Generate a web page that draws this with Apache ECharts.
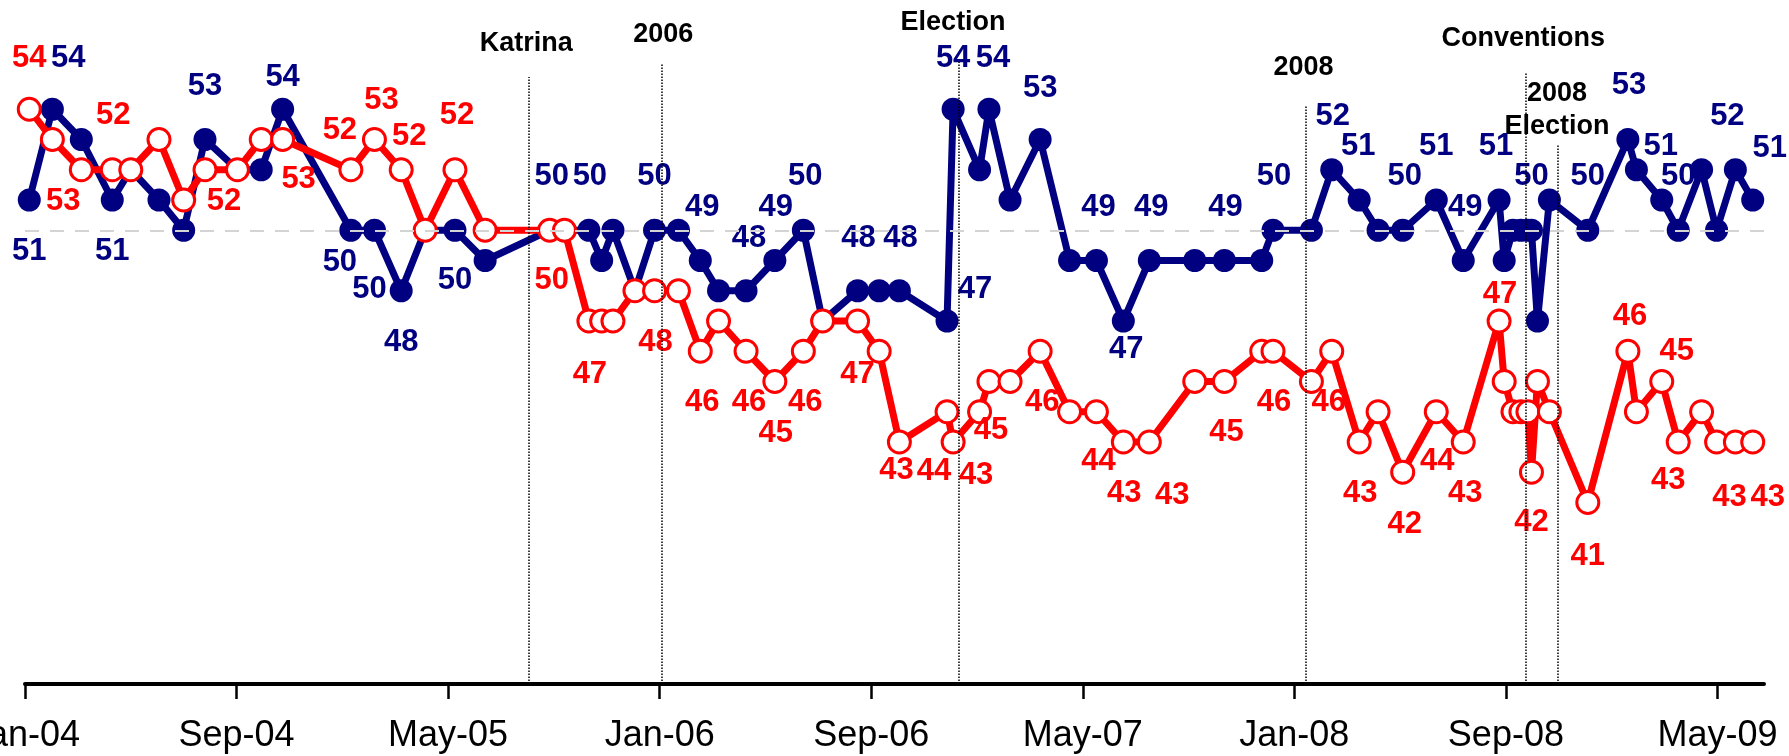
<!DOCTYPE html>
<html>
<head>
<meta charset="utf-8">
<script src="https://cdn.jsdelivr.net/npm/echarts@6/dist/echarts.min.js"></script>
<style>
html,body{margin:0;padding:0;background:#ffffff;}
#chart{width:1789px;height:756px;}
</style>
</head>
<body>
<div id="chart"></div>
<script>
// ---------------- DATA ----------------
const pollDates = [
  '2004-01-06','2004-02-02','2004-03-05','2004-04-10','2004-05-01','2004-06-03','2004-07-01','2004-07-26','2004-09-02','2004-09-29',
  '2004-10-24','2005-01-11','2005-02-07','2005-03-08','2005-04-05','2005-05-09','2005-06-13','2005-08-27','2005-09-13','2005-10-11',
  '2005-10-26','2005-11-08','2005-12-03','2005-12-26','2006-01-23','2006-02-16','2006-03-08','2006-04-09','2006-05-12','2006-06-14',
  '2006-07-06','2006-08-16','2006-09-10','2006-10-03','2006-11-27','2006-12-04','2007-01-04','2007-01-15','2007-02-08','2007-03-13',
  '2007-04-16','2007-05-17','2007-06-17','2007-07-17','2007-09-08','2007-10-12','2007-11-24','2007-12-07','2008-01-21','2008-02-13',
  '2008-03-15','2008-04-06','2008-05-04','2008-06-12','2008-07-13','2008-08-24','2008-08-30','2008-09-09','2008-09-18','2008-09-26',
  '2008-09-30','2008-10-07','2008-10-21','2008-12-04','2009-01-20','2009-01-30','2009-02-26','2009-03-17','2009-04-13','2009-04-30',
  '2009-05-22','2009-06-11'
];
const blueValues = [
  51,54,53,51,52,51,50,53,52,52,
  54,50,50,48,50,50,49,50,50,50,
  49,50,48,50,50,49,48,48,49,50,
  47,48,48,48,47,54,52,54,51,53,
  49,49,47,49,49,49,49,50,50,52,
  51,50,50,51,49,51,49,50,50,50,
  50,47,51,50,53,52,51,50,52,50,
  52,51
];
const redValues = [
  54,53,52,52,52,53,51,52,52,53,
  53,52,53,52,50,52,50,50,50,47,
  47,47,48,48,48,46,47,46,45,46,
  47,47,46,43,44,43,44,45,45,46,
  44,44,43,43,45,45,46,46,45,46,
  43,44,42,44,43,47,45,44,44,44,
  42,45,44,41,46,44,45,43,44,43,
  43,43
];
const tickLabels = ['Jan-04','Sep-04','May-05','Jan-06','Sep-06','May-07','Jan-08','Sep-08','May-09'];
const eventNames = ['Katrina','2006','Election','2008','Conventions','2008\nElection'];
const eventDates = ['2005-08-03','2006-01-04','2006-12-11','2008-01-14','2008-09-23','2008-10-31'];
const referenceLevel = 50;

// ---------------- STYLE (label placement, pixel offsets) ----------------
const blueLabelOffsets = {
  0:[0,51],1:[16,-51],3:[0,51],7:[0,-53],10:[0,-32],11:[-11,32],12:[-5,59],13:[0,52],15:[0,50],
  17:[2,-54],19:[1,-54],23:[0,-54],25:[2,-53],27:[3,-52],28:[1,-53],29:[2,-54],31:[1,-52],33:[1,-52],
  34:[28,-32],35:[0,-51],37:[4,-51],39:[0,-51],41:[2,-53],42:[3,28],43:[2,-53],45:[1,-53],47:[1,-54],
  49:[1,-53],50:[-1,-54],52:[2,-54],53:[0,-54],54:[2,-53],55:[-3,-54],60:[0,-54],63:[0,-54],64:[1,-54],
  66:[-1,-54],67:[0,-54],70:[-8,-53],71:[17,-52]
};
const redLabelOffsets = {
  0:[0,-51],1:[11,62],3:[1,-54],7:[19,32],10:[16,40],11:[-11,-39],12:[7,-39],13:[8,-33],15:[2,-54],
  17:[2,50],19:[1,53],23:[1,52],25:[2,51],27:[3,51],28:[1,52],29:[2,51],31:[0,53],33:[-3,28],
  34:[-13,60],35:[23,33],37:[2,49],39:[2,51],41:[2,50],42:[1,51],43:[23,53],45:[2,51],47:[1,51],
  49:[-3,51],50:[1,51],52:[2,52],53:[1,50],54:[2,51],55:[1,-27],60:[0,50],63:[0,54],64:[2,-35],
  66:[15,-30],67:[-10,38],69:[13,55],71:[15,55]
};
const eventLineTop = [55.07, 55.53, 55.56, 54.14, 55.23, 52.82];
const eventTextOffsets = [[-3,-33],[1,-28],[-6,-40],[-2,-37],[-2,-33],[-1,-35]];

const BLUE = '#000080', RED = '#ff0000';
const FONT = '"Liberation Sans", Arial, sans-serif';

function toMonths(s){
  const p = s.split('-').map(Number);
  const dim = new Date(p[0], p[1], 0).getDate();
  return (p[0]-2004)*12 + (p[1]-1) + (p[2]-1)/dim;
}
const X_MIN = 0, X_MAX = 65.76, Y_MIN = 35, Y_MAX = 57;
const tickValues = tickLabels.map((_, i) => i*8);

function buildData(values, offsets){
  return pollDates.map((d, i) => {
    const item = { value: [toMonths(d), values[i]] };
    if (offsets[i]) item.label = { show: true, offset: offsets[i] };
    return item;
  });
}

const eventData = eventDates.map((d, i) => ({
  value: [toMonths(d), eventLineTop[i]],
  label: { offset: eventTextOffsets[i] }
}));
const markLines = eventDates.map((d, i) => [
  { coord: [toMonths(d), Y_MIN] },
  { coord: [toMonths(d), eventLineTop[i]] }
]);
markLines.push([
  { coord: [X_MIN, referenceLevel], lineStyle: { color: '#d4d4d4', width: 2, type: [14, 11] } },
  { coord: [X_MAX, referenceLevel] }
]);

const chart = echarts.init(document.getElementById('chart'), null, { renderer: 'canvas' });
const numberLabel = (color) => ({
  show: false,
  position: 'inside',
  formatter: p => String(p.value[1]),
  color: color,
  fontSize: 31,
  fontWeight: 'bold',
  fontFamily: FONT
});

chart.setOption({
  animation: false,
  backgroundColor: '#ffffff',
  grid: { left: 25, right: 25, top: 18.5, bottom: 72, containLabel: false, outerBoundsMode: 'none' },
  xAxis: {
    type: 'value',
    min: X_MIN, max: X_MAX, interval: 8,
    axisLine: { show: true, lineStyle: { color: '#000', width: 4 } },
    axisTick: { show: true, length: 15, customValues: tickValues, lineStyle: { color: '#000', width: 2.5 } },
    axisLabel: {
      show: true, margin: 34, customValues: tickValues, hideOverlap: false,
      color: '#000', fontSize: 36, fontFamily: FONT,
      formatter: v => { const k = Math.round(v/8); return (Math.abs(v - k*8) < 1e-6 && tickLabels[k]) ? tickLabels[k] : ''; }
    },
    splitLine: { show: false }
  },
  yAxis: {
    type: 'value', min: Y_MIN, max: Y_MAX, show: false,
    splitLine: { show: false }
  },
  series: [
    {
      type: 'scatter',
      z: 1,
      silent: true,
      symbolSize: 0,
      data: eventData,
      label: {
        show: true, position: 'inside',
        formatter: p => eventNames[p.dataIndex],
        color: '#000000', fontSize: 27, fontWeight: 'bold', fontFamily: FONT,
        lineHeight: 33, align: 'center', opacity: 1
      },
      markLine: {
        silent: true,
        symbol: ['none', 'none'],
        label: { show: false },
        lineStyle: { color: '#000', width: 1.5, type: 'dotted' },
        emphasis: { disabled: true },
        data: markLines
      }
    },
    {
      type: 'line',
      z: 3,
      clip: false,
      showAllSymbol: true,
      symbol: 'circle',
      symbolSize: 23,
      data: buildData(blueValues, blueLabelOffsets),
      lineStyle: { color: BLUE, width: 7 },
      itemStyle: { color: BLUE },
      label: numberLabel(BLUE),
      emphasis: { disabled: true }
    },
    {
      type: 'line',
      z: 4,
      clip: false,
      showAllSymbol: true,
      symbol: 'circle',
      symbolSize: 22,
      data: buildData(redValues, redLabelOffsets),
      lineStyle: { color: RED, width: 7 },
      itemStyle: { color: '#ffffff', borderColor: RED, borderWidth: 3 },
      label: numberLabel(RED),
      emphasis: { disabled: true }
    }
  ]
});
</script>
</body>
</html>
